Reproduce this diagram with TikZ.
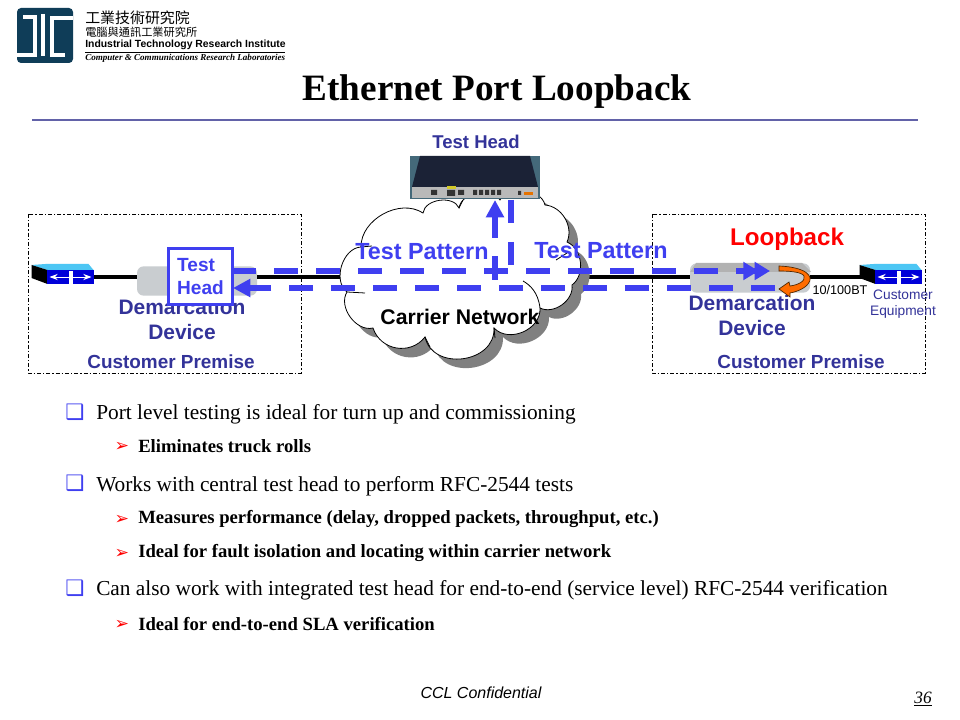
\documentclass[tikz,border=0pt]{standalone}
\usepackage{fontspec}
\setmainfont{Liberation Serif}
\setsansfont{Liberation Sans}
\newfontfamily\cjk{Noto Sans CJK TC}
\newfontfamily\dejavu{DejaVu Sans}
\usetikzlibrary{arrows.meta}
\definecolor{navytxt}{HTML}{333399}
\definecolor{bluetxt}{HTML}{3F3FF0}
\definecolor{logoblue}{HTML}{0F3D58}
\definecolor{rulecol}{HTML}{6262A8}
\definecolor{boxgray}{HTML}{C9CDD0}
\definecolor{headtop}{HTML}{1B2236}
\definecolor{headbg}{HTML}{44697A}
\newcommand{\sz}[1]{\fontsize{#1}{#1}\selectfont}
\newcommand{\cloudline}{(361,247) to[bend left=62] (423,213) to[bend left=75] (459,208)
  to[bend left=70] (500,200) to[bend left=70] (545,205) to[bend left=55] (567,242)
  to[bend left=60] (572,285) to[bend left=62] (540,308) to[bend left=70, looseness=1.1] (494,328)
  to[bend left=85, looseness=1.3] (425,337) to[bend left=62, looseness=1.15] (373,328) to[bend left=68] (347,292)
  to[bend left=70] (361,247) -- cycle}
\tikzset{
  x=0.75pt, y=-0.75pt,
  lbl/.style={font=\sffamily\bfseries\sz{14.2}, text=navytxt, align=center, inner sep=0pt},
  devlbl/.style={font=\sffamily\bfseries\sz{15.7}, text=navytxt, align=center, inner sep=0pt},
  pattern/.style={font=\sffamily\bfseries\sz{17.5}, text=bluetxt, inner sep=0pt},
  premise/.style={draw, dash pattern=on 3pt off 1.5pt on 1pt off 1.5pt, line width=0.6pt},
  demarc/.style={draw=none, fill=boxgray, rounded corners=5pt, minimum width=90pt, minimum height=22pt, inner sep=0pt},
  testline/.style={draw=bluetxt, line width=4.2pt, dash pattern=on 18pt off 13.5pt},
  testtip/.style={-{Triangle[length=13pt,width=13pt,fill=bluetxt]}},
  main/.style={anchor=west, font=\sz{16}, inner sep=0pt},
  sub/.style={anchor=west, font=\bfseries\sz{14}, inner sep=0pt},
  mark1/.style={font=\dejavu\sz{16}, text=bluetxt, inner sep=0pt},
  mark2/.style={font=\dejavu\sz{13}, text=red, inner sep=0pt},
  switchpic/.pic={
    \fill[cyan!70] (-39,-11) -- (-25,-12) -- (18,-12) -- (23,-6) -- (-23,-6) -- cycle;
    \fill[black] (-39,-11) -- (-23,-6) -- (-23,8) -- (-39,2) -- cycle;
    \node[fill=blue!85!black, minimum width=35pt, minimum height=10.5pt, inner sep=0pt] (-front) at (0,1) {};
    \draw[white, line width=0.7pt, <->, >=Stealth] (-21,1) -- (21,1);
    \fill[white] (-2,-5) rectangle (2,8);
  }
}
\begin{document}
\begin{tikzpicture}
  \useasboundingbox (0,0) rectangle (960,720);
  \fill[white] (0,0) rectangle (960,720);
  \fill[logoblue, rounded corners=3pt] (17,8) rectangle (73,63);
  \draw[white, line width=2.4pt] (23,17) -- (35,17) -- (35,55) -- (17,55);
  \draw[white, line width=3.6pt] (43,14) -- (43,56);
  \draw[white, line width=2.4pt] (73,18) -- (52,18) -- (52,55) -- (65,55);
  \node[anchor=west, inner sep=0pt, font=\cjk\sz{11.2}] (itri1) at (85,18) {工業技術研究院};
  \node[anchor=west, inner sep=0pt, font=\cjk\sz{8.4}] (itri2) at (85,32) {電腦與通訊工業研究所};
  \node[anchor=west, inner sep=0pt, font=\sffamily\bfseries\sz{7.8}] (itri3) at (85,45) {Industrial Technology Research Institute};
  \node[anchor=west, inner sep=0pt, font=\itshape\bfseries\sz{6.8}] (itri4) at (85,58) {Computer \& Communications Research Laboratories};
  \draw[line width=0.6pt] (85,52) -- (285,52);
  \node[font=\bfseries\sz{27.9}, inner sep=0pt] (title) at (497,92) {Ethernet Port Loopback};
  \draw[rulecol, line width=2.2pt] (32,120) -- (918,120);

  \draw[premise] (28,214) rectangle (301,373);
  \draw[premise] (652,214) rectangle (925,373);

  \pic (sw1) at (70.5,276) {switchpic};
  \pic (sw2) at (898.5,276) {switchpic};
  \node[demarc] (dm1) at (197,281) {};
  \node[demarc] (dm2) at (750,278) {};
  \fill[gray!60] (696,263) -- (802,263) -- (811,272) -- (690,272) -- cycle;
  \draw[line width=2.6pt] (sw1-front) -- (sw1-front -| dm1.west);
  \draw[line width=2.6pt] (sw1-front -| dm1.east) -- (sw1-front -| dm2.west);
  \draw[line width=2.6pt] (sw1-front -| dm2.east) -- (sw2-front);

  \fill[black!50, shift={(9,9)}] \cloudline;
  \filldraw[fill=white, draw=black, line width=0.6pt] \cloudline;
  \draw[line width=0.6pt] (459,208) -- (463,200) (361,247) -- (372,246) (347,292) -- (365,293)
    (540,308) .. controls (538,292) and (530,285) .. (523,281) (425,337) -- (430,347) (494,328) -- (495,338)
    (556,260) -- (567,253);

  \fill[headbg] (410,156) rectangle (540,199);
  \fill[headtop] (420,156) -- (530,156) -- (538,187) -- (412,187) -- cycle;
  \fill[gray!55] (412,187) rectangle (538,198);
  \fill[black!80] (431,190) rectangle (437,195) (447,190) rectangle (455,196) (458,190) rectangle (464,195)
    (473,190) rectangle (477,195) (479,190) rectangle (483,195) (485,190) rectangle (489,195)
    (491,190) rectangle (495,195) (497,190) rectangle (501,195) (518,191) rectangle (521,195);
  \fill[yellow!80!black] (447,186) rectangle (456,189);
  \fill[orange!90!black] (524,192) rectangle (533,195);

  \coordinate (top1) at (232,271);
  \coordinate (top2) at (770,271);
  \coordinate (bot1) at (775,288);
  \coordinate (bot2) at (233,288);
  \coordinate (up1) at (495,280);
  \coordinate (up2) at (495,200);
  \coordinate (dn1) at (511,200);
  \coordinate (dn2) at (511,265);

  \node[devlbl] (dev1) at (182,319.5) {Demarcation\\[3pt]Device};
  \node[devlbl] (dev2) at (752,315.5) {Demarcation\\[3pt]Device};
  \node[lbl] (cp1) at (171,362) {Customer Premise};
  \node[lbl] (cp2) at (801,362) {Customer Premise};
  \node[lbl, font=\sffamily\bfseries\sz{13.9}] (thtop) at (476,142) {Test Head};
  \node[font=\sffamily\bfseries\sz{15.9}, inner sep=0pt] (carrier) at (460,317) {Carrier Network};
  \node[pattern] (tp1) at (422,252) {Test Pattern};
  \node[pattern] (tp2) at (601,251) {Test Pattern};
  \node[font=\sffamily\bfseries\sz{18.1}, text=red, inner sep=0pt] (loop) at (787,239) {Loopback};
  \node[font=\sffamily\sz{9.5}, inner sep=0pt] (speed) at (840,290) {10/100BT};
  \node[font=\sffamily\sz{10.3}, text=navytxt, align=center, inner sep=0pt] (cust) at (903,304) {Customer\\[1.7pt]Equipment};

  \draw[testline, -{Triangle[length=11.5pt,width=13pt,fill=bluetxt,sep=-3pt]Triangle[length=11.5pt,width=13pt,fill=bluetxt]}] (top1) -- (top2);
  \draw[testline, testtip] (bot1) -- (bot2);
  \draw[testline, testtip] (up1) -- (up2);
  \draw[draw=bluetxt, line width=4.2pt, dash pattern=on 17pt off 14.5pt] (dn1) -- (dn2);

  \node[draw=bluetxt, line width=1.8pt, fill=white, minimum width=48pt, minimum height=42pt, inner sep=0pt,
    font=\sffamily\bfseries\sz{14.3}, text=bluetxt, align=left] (thbox) at (200.5,276.5) {Test\\[3pt]Head};

  \filldraw[fill=orange!85!red, draw=black!70!orange, line width=0.5pt] (779,266) .. controls (805,267) and (815,276) .. (808,284)
    .. controls (803,290) and (795,292) .. (790,293) -- (790,297) -- (779,289) -- (789,282) -- (790,286)
    .. controls (798,285) and (806,281) .. (804,276) .. controls (802,272) and (790,271) .. (779,271) -- cycle;

  \node[mark1] (b1) at (75,412) {❑};
  \node[main] (t1) at (96,414) {Port level testing is ideal for turn up and commissioning};
  \node[mark2] (b2) at (122,447) {➢};
  \node[sub] (t2) at (138,446) {Eliminates truck rolls};
  \node[mark1] (b3) at (75,483) {❑};
  \node[main] (t3) at (96,486) {Works with central test head to perform RFC-2544 tests};
  \node[mark2] (b4) at (122,520) {➢};
  \node[sub] (t4) at (138,519) {Measures performance (delay, dropped packets, throughput, etc.)};
  \node[mark2] (b5) at (122,554) {➢};
  \node[sub] (t5) at (138,553) {Ideal for fault isolation and locating within carrier network};
  \node[mark1] (b6) at (75,588) {❑};
  \node[main] (t6) at (96,590) {Can also work with integrated test head for end-to-end (service level) RFC-2544 verification};
  \node[mark2] (b7) at (122,625) {➢};
  \node[sub] (t7) at (138,624) {Ideal for end-to-end SLA verification};

  \node[font=\sffamily\itshape\sz{12}, inner sep=0pt] (conf) at (481,693) {CCL Confidential};
  \node[font=\itshape\sz{13}, inner sep=0pt] (page) at (923,699) {\underline{36}};
\end{tikzpicture}
\end{document}
